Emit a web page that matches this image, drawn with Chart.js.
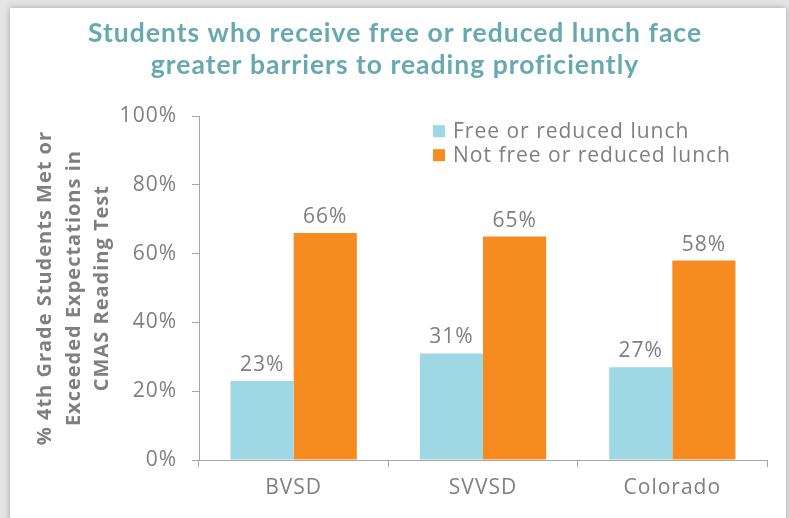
<!DOCTYPE html>
<html>
<head>
<meta charset="utf-8">
<script src="https://cdn.jsdelivr.net/npm/chart.js@4/dist/chart.umd.min.js"></script>
<style>
  html, body { margin: 0; padding: 0; width: 789px; height: 518px; overflow: hidden; background: #e4e4e4; }
  #card { position: absolute; left: 10px; top: 8px; width: 776px; height: 530px; background: #ffffff; box-shadow: 0 0 6px rgba(0,0,0,0.28); }
  #wrap { position: absolute; left: 0; top: 0; width: 789px; height: 518px; }
</style>
</head>
<body>
<div id="card"></div>
<div id="wrap"><canvas id="c" width="789" height="518"></canvas></div>
<script>
const titleLines = ['Students who receive free or reduced lunch face', 'greater barriers to reading proficiently'];
const yAxisTitle = ['% 4th Grade Students Met or', 'Exceeded Expectations in', 'CMAS Reading Test'];
const categories = ['BVSD', 'SVVSD', 'Colorado'];
const seriesNames = ['Free or reduced lunch', 'Not free or reduced lunch'];
const freeLunch = [23, 31, 27];
const notFreeLunch = [66, 65, 58];
const yMin = 0, yMax = 100, yStep = 20;

const GRAY = '#7f7f7f';
const AXIS = '#a6a6a6';
const BLUE = '#9ed8e5';
const ORANGE = '#f68b1f';
const TEAL = '#68a9b1';
const FONT = "'Open Sans'";
const SPACING = '1px';

const spacing = {
  id: 'spacing',
  beforeLayout(chart) { chart.ctx.letterSpacing = SPACING; },
  afterLayout(chart) { if (chart.titleBlock) { chart.titleBlock.left = 23; } },
  beforeDraw(chart) { chart.ctx.letterSpacing = SPACING; }
};

const dataLabels = {
  id: 'dataLabels',
  afterDatasetsDraw(chart) {
    const ctx = chart.ctx;
    ctx.save();
    ctx.letterSpacing = SPACING;
    ctx.font = '21px ' + FONT;
    ctx.fillStyle = GRAY;
    ctx.textAlign = 'center';
    ctx.textBaseline = 'alphabetic';
    chart.data.datasets.forEach((ds, i) => {
      chart.getDatasetMeta(i).data.forEach((bar, j) => {
        ctx.fillText(ds.data[j] + '%', bar.x, bar.y - 10);
      });
    });
    ctx.restore();
  }
};

const insideLegend = {
  id: 'insideLegend',
  afterDraw(chart) {
    const ctx = chart.ctx;
    const a = chart.chartArea;
    ctx.save();
    ctx.letterSpacing = SPACING;
    ctx.font = '21px ' + FONT;
    ctx.textBaseline = 'middle';
    ctx.textAlign = 'left';
    chart.data.datasets.forEach((ds, i) => {
      const x = a.left + 234;
      const y = a.top + 9 + i * 24;
      ctx.fillStyle = ds.backgroundColor;
      ctx.fillRect(x, y, 12, 12);
      ctx.fillStyle = GRAY;
      ctx.fillText(ds.label, x + 20, y + 7);
    });
    ctx.restore();
  }
};

new Chart(document.getElementById('c'), {
  type: 'bar',
  data: {
    labels: categories,
    datasets: [
      { label: seriesNames[0], data: freeLunch, backgroundColor: BLUE, categoryPercentage: 0.667, barPercentage: 1.0 },
      { label: seriesNames[1], data: notFreeLunch, backgroundColor: ORANGE, categoryPercentage: 0.667, barPercentage: 1.0 }
    ]
  },
  options: {
    responsive: false,
    animation: false,
    events: [],
    layout: { padding: { left: 0, right: 22, top: 0, bottom: 0 } },
    plugins: {
      legend: { display: false },
      tooltip: { enabled: false },
      title: {
        display: true,
        text: titleLines,
        color: TEAL,
        font: { family: 'Lato', size: 26.5, weight: 'bold', lineHeight: 1.23 },
        padding: { top: 17, bottom: 34 }
      }
    },
    scales: {
      x: {
        grid: { display: true, drawOnChartArea: false, drawTicks: true, tickLength: 7, color: AXIS, tickColor: AXIS, offset: true },
        border: { display: true, color: AXIS, width: 1 },
        ticks: { color: GRAY, font: { family: FONT, size: 21 }, padding: 8, maxRotation: 0 },
        afterFit(scale) { scale.height = 58; }
      },
      y: {
        min: yMin, max: yMax,
        grid: { display: true, drawOnChartArea: false, drawTicks: true, tickLength: 7, color: AXIS, tickColor: AXIS },
        border: { display: true, color: AXIS, width: 1 },
        ticks: { stepSize: yStep, color: GRAY, font: { family: FONT, size: 21 }, padding: 15, callback: v => v + '%' },
        title: {
          display: true,
          text: yAxisTitle,
          color: GRAY,
          font: { family: FONT, size: 20, weight: 'bold', lineHeight: 1.43 },
          padding: { top: 31, bottom: 0 }
        },
        afterFit(scale) { scale.width = 199; }
      }
    }
  },
  plugins: [spacing, dataLabels, insideLegend]
});
</script>
</body>
</html>
